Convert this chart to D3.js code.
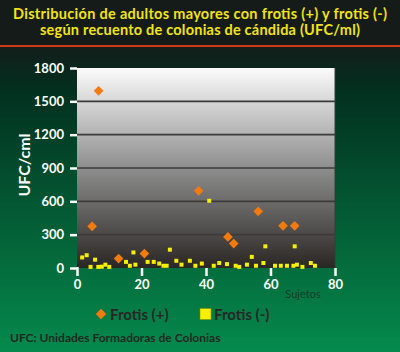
<!DOCTYPE html>
<html>
<head>
<meta charset="UTF-8">
<script src="https://d3js.org/d3.v7.min.js"></script>
<style>
  body { margin: 0; }
  svg { display: block; font-family: Lato, "Open Sans", sans-serif; }
</style>
</head>
<body>
<div id="chart"></div>
<script>
// Frotis (+)
const posX = [4.7, 6.7, 12.9, 20.9, 37.7, 46.8, 48.6, 56.2, 63.9, 67.5]
const posY = [375, 1595, 85, 130, 695, 280, 220, 510, 380, 380]
// Frotis (-)
const negX = [1.6, 3.0, 4.2, 5.6, 6.6, 7.7, 8.8, 10, 15.2, 16.4, 17.5, 18.1, 21.9, 23.8, 25.5, 26.8, 27.8, 28.8, 30.8, 32.4,
              35, 36.7, 38.7, 41, 42.4, 44.1, 46.5, 49.2, 50.3, 52.7, 54.2, 55.5, 57.8, 58.4, 61.4, 63.2, 65.1, 67.1, 67.5, 68.2,
              69.9, 72.5, 73.8]
const negY = [95, 115, 10, 75, 10, 12, 30, 10, 55, 20, 140, 30, 55, 55, 40, 20, 20, 165, 65, 30,
              65, 20, 40, 605, 20, 45, 35, 20, 10, 30, 100, 20, 45, 195, 20, 20, 20, 20, 195, 30,
              10, 45, 20]
const xTicks = [0, 20, 40, 60, 80]
const yTicks = [0, 300, 600, 900, 1200, 1500, 1800]

const W = 400, H = 352
const svg = d3.select('#chart').append('svg').attr('width', W).attr('height', H)
const defs = svg.append('defs')

const bg = defs.append('linearGradient').attr('id', 'bg').attr('x1', 0).attr('y1', 0).attr('x2', 0).attr('y2', 1)
bg.append('stop').attr('offset', '0%').attr('stop-color', '#151c1a')
bg.append('stop').attr('offset', '14%').attr('stop-color', '#121f1b')
bg.append('stop').attr('offset', '26%').attr('stop-color', '#02301f')
bg.append('stop').attr('offset', '100%').attr('stop-color', '#058a4c')

const pg = defs.append('linearGradient').attr('id', 'pg').attr('x1', 0).attr('y1', 0).attr('x2', 0).attr('y2', 1)
pg.append('stop').attr('offset', '0%').attr('stop-color', '#fbfbfb')
pg.append('stop').attr('offset', '50%').attr('stop-color', '#8e8e8e')
pg.append('stop').attr('offset', '100%').attr('stop-color', '#2a2624')

svg.append('rect').attr('width', W).attr('height', H).attr('fill', 'url(#bg)')
svg.append('rect').attr('width', W).attr('height', 46).attr('fill', '#141b19')
svg.append('rect').attr('y', 45).attr('width', W).attr('height', 2).attr('fill', '#d23a16')

// title
svg.append('text').attr('x', 200).attr('y', 19).attr('text-anchor', 'middle').attr('fill', '#f3e31a')
  .attr('font-weight', 'bold').attr('font-size', 14.5)
  .attr('textLength', 374).attr('lengthAdjust', 'spacing')
  .text('Distribución de adultos mayores con frotis (+) y frotis (-)')
svg.append('text').attr('x', 200).attr('y', 35).attr('text-anchor', 'middle').attr('fill', '#f3e31a')
  .attr('font-weight', 'bold').attr('font-size', 14.5)
  .attr('textLength', 320).attr('lengthAdjust', 'spacing')
  .text('según recuento de colonias de cándida (UFC/ml)')

const x = d3.scaleLinear().domain([0, 80]).range([77, 335])
const y = d3.scaleLinear().domain([0, 1800]).range([268, 68])

// plot area
svg.append('rect').attr('x', x(0)).attr('y', y(1800)).attr('width', x(80) - x(0)).attr('height', y(0) - y(1800))
  .attr('fill', 'url(#pg)')
svg.append('line').attr('x1', x(80)).attr('x2', x(80)).attr('y1', y(1800)).attr('y2', y(0))
  .attr('stroke', '#3a3a3a').attr('stroke-width', 1)
svg.append('g').selectAll('line').data(yTicks.filter(d => d > 0 && d < 1800)).join('line')
  .attr('x1', x(0)).attr('x2', x(80)).attr('y1', d => y(d)).attr('y2', d => y(d))
  .attr('stroke', '#3c3b3a').attr('stroke-width', 1.6)

// axes
const yAxis = svg.append('g').attr('transform', `translate(${x(0)},0)`)
  .call(d3.axisLeft(y).tickValues(yTicks).tickFormat(d3.format('d')).tickSize(7).tickPadding(6))
const xAxis = svg.append('g').attr('transform', `translate(0,${y(0)})`)
  .call(d3.axisBottom(x).tickValues(xTicks).tickFormat(d3.format('d')).tickSize(8).tickPadding(4))
for (const g of [yAxis, xAxis]) {
  g.select('.domain').remove()
  g.selectAll('.tick line').attr('stroke', '#fff').attr('stroke-width', 2.5)
  g.selectAll('.tick text').attr('fill', '#fff').attr('font-size', 13).attr('font-weight', 'bold')
    .attr('font-family', 'Lato, sans-serif')
}
xAxis.select('.tick line').attr('y1', -1)

svg.append('text').attr('transform', 'translate(30,165) rotate(-90)').attr('text-anchor', 'middle')
  .attr('fill', '#fff').attr('font-weight', 'bold').attr('font-size', 16).text('UFC/cml')
svg.append('text').attr('x', 303).attr('y', 298).attr('text-anchor', 'middle')
  .attr('fill', '#1d3a28').attr('font-size', 11).text('Sujetos')

// points
const diamond = d3.symbol().type(d3.symbolDiamond2).size(60)
svg.append('g').selectAll('path').data(posX.map((d, i) => [d, posY[i]])).join('path')
  .attr('d', diamond).attr('transform', d => `translate(${x(d[0])},${y(d[1])})`)
  .attr('fill', '#f27a0e')
svg.append('g').selectAll('rect').data(negX.map((d, i) => [d, negY[i]])).join('rect')
  .attr('x', d => x(d[0]) - 2).attr('y', d => y(d[1]) - 2).attr('width', 4).attr('height', 4)
  .attr('fill', '#f4f000')

// legend
svg.append('path').attr('d', d3.symbol().type(d3.symbolDiamond2).size(70))
  .attr('transform', 'translate(101,314)').attr('fill', '#f27a0e')
svg.append('text').attr('x', 110).attr('y', 319.5).attr('fill', '#262626')
  .attr('font-weight', 'bold').attr('font-size', 15).text('Frotis (+)')
svg.append('rect').attr('x', 200).attr('y', 308.5).attr('width', 11).attr('height', 11)
  .attr('fill', '#f4f000').attr('stroke', '#8a8a00').attr('stroke-width', 0.5)
svg.append('text').attr('x', 214).attr('y', 319.5).attr('fill', '#262626')
  .attr('font-weight', 'bold').attr('font-size', 15).text('Frotis (-)')
svg.append('text').attr('x', 10).attr('y', 342).attr('fill', '#1f2a22')
  .attr('font-weight', 'bold').attr('font-size', 12).text('UFC: Unidades Formadoras de Colonias')
</script>
</body>
</html>
